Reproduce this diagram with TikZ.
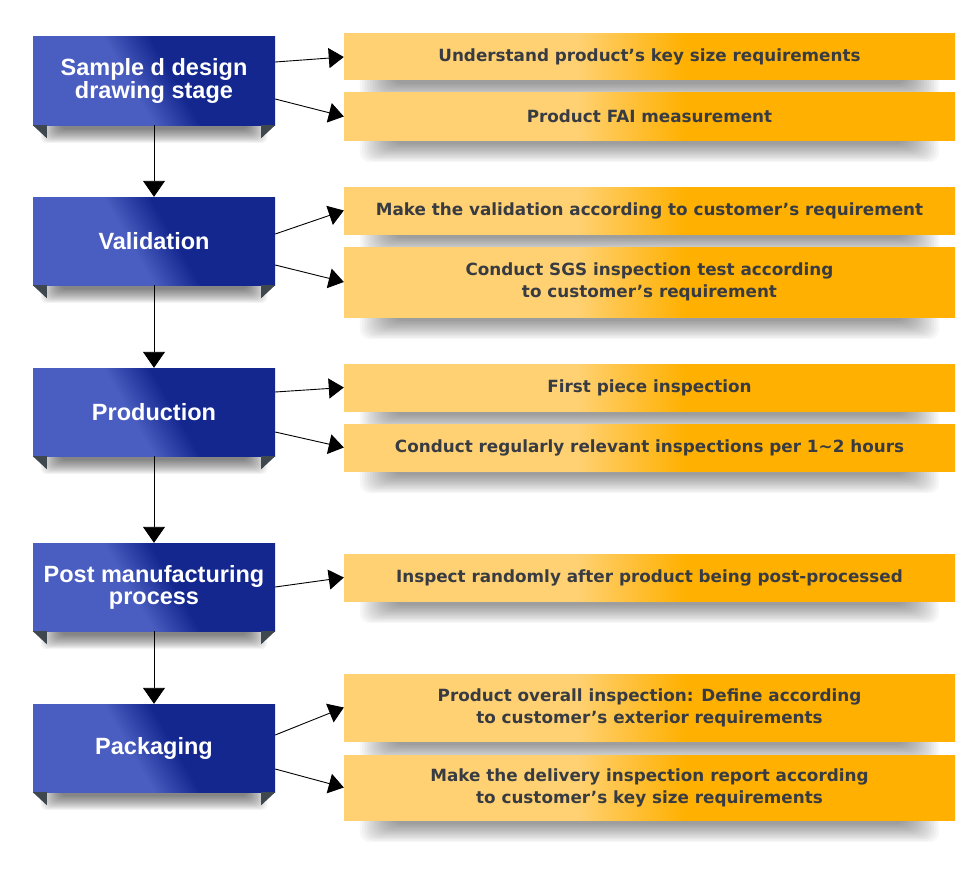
\documentclass[tikz,border=0pt]{standalone}
\usepackage{fontspec}
\setmainfont{Liberation Sans}
\newfontfamily\orfont{DejaVu Sans}
\usetikzlibrary{arrows.meta,calc}
\definecolor{ol}{HTML}{FFD173}
\definecolor{od}{HTML}{FFB000}
\definecolor{bl}{HTML}{4A5DC0}
\definecolor{bd}{HTML}{13278F}
\definecolor{fold}{HTML}{3F474F}
\definecolor{txt}{HTML}{383C42}
\pgfdeclarehorizontalshading{orangeshade}{100bp}{color(0bp)=(ol); color(44bp)=(ol); color(53bp)=(od); color(100bp)=(od)}
\pgfdeclarehorizontalshading{blueshade}{100bp}{color(0bp)=(bl); color(44bp)=(bl); color(55bp)=(bd); color(100bp)=(bd)}
\pgfdeclarelayer{bg}
\pgfdeclarelayer{shadow}
\pgfsetlayers{bg,shadow,main}
\begin{document}
\begin{tikzpicture}[x=1pt,y=-1pt,
  bluebox/.style={minimum width=242pt, minimum height=88pt, inner sep=0pt, shade, shading=blueshade, shading angle=30,
    text=white, font=\bfseries\fontsize{23.5}{22}\selectfont, align=center},
  orangebox/.style={minimum width=611pt, inner sep=0pt, shade, shading=orangeshade,
    text=txt, font=\orfont\bfseries\fontsize{16.8}{22}\selectfont, align=center},
  harr/.style={-{Triangle[length=15pt,width=20pt]}, line width=0.9pt, black},
  varr/.style={-{Triangle[length=16pt,width=22pt]}, line width=0.9pt, black},
  shadowlayer/.style={fill=black, opacity=0.032, rounded corners=10pt}
]
\begin{pgfonlayer}{bg}
\fill[white] (0,0) rectangle (970,875);
\end{pgfonlayer}
\useasboundingbox (0,0) rectangle (970,875);

% blue stage boxes
\node[bluebox] (b1) at (154,81) {Sample d design\\drawing stage};
\node[bluebox] (b2) at (154,241) {Validation};
\node[bluebox] (b3) at (154,412) {Production};
\node[bluebox] (b4) at (154,587) {Post manufacturing\\process};
\node[bluebox] (b5) at (154,748) {Packaging};

% orange detail boxes
\node[orangebox, minimum height=46pt] (o1) at (649.5,57) {Understand product’s key size requirements};
\node[orangebox, minimum height=47pt] (o2) at (649.5,116.5) {Product FAI measurement};
\node[orangebox, minimum height=47pt] (o3) at (649.5,210.5) {Make the validation according to customer’s requirement};
\node[orangebox, minimum height=70pt] (o4) at (649.5,282) {Conduct SGS inspection test according\\to customer’s requirement};
\node[orangebox, minimum height=47pt] (o5) at (649.5,387.5) {First piece inspection};
\node[orangebox, minimum height=47pt] (o6) at (649.5,447.5) {Conduct regularly relevant inspections per 1\char`\~2 hours};
\node[orangebox, minimum height=47pt] (o7) at (649.5,577.5) {Inspect randomly after product being post-processed};
\node[orangebox, minimum height=67pt] (o8) at (649.5,707.5) {Product overall inspection: Define according\\to customer’s exterior requirements};
\node[orangebox, minimum height=65pt] (o9) at (649.5,787.5) {Make the delivery inspection report according\\to customer’s key size requirements};

% soft shadows (stacked translucent layers)
\begin{pgfonlayer}{shadow}
\foreach \i in {1,...,9}{
  \foreach \k in {0,...,13}{
    \fill[shadowlayer] ($(o\i.south west)+(16+2.5*\k,-12)$) rectangle ($(o\i.south east)+(-16-2.5*\k,22-1.4*\k)$);
  }
}
\foreach \i in {1,...,5}{
  \foreach \k in {0,...,13}{
    \fill[shadowlayer, opacity=0.045, rounded corners=6pt] ($(b\i.south west)+(8+1.5*\k,-12)$) rectangle ($(b\i.south east)+(-8-1.5*\k,18-1.1*\k)$);
  }
}
\end{pgfonlayer}

% folded corners
\foreach \i in {1,...,5}{
  \fill[fold] (b\i.south west) -- ++(14,0) -- ++(0,13) -- cycle;
  \fill[fold] (b\i.south east) -- ++(-14,0) -- ++(0,13) -- cycle;
}

% vertical connectors
\draw[varr] (b1.south) -- (b2.north);
\draw[varr] (b2.south) -- (b3.north);
\draw[varr] (b3.south) -- (b4.north);
\draw[varr] (b4.south) -- (b5.north);

% horizontal connectors
\draw[harr] ([yshift=19pt]b1.east) -- (o1.west);
\draw[harr] ([yshift=-18pt]b1.east) -- (o2.west);
\draw[harr] ([yshift=7pt]b2.east) -- (o3.west);
\draw[harr] ([yshift=-24pt]b2.east) -- (o4.west);
\draw[harr] ([yshift=20pt]b3.east) -- (o5.west);
\draw[harr] ([yshift=-20pt]b3.east) -- (o6.west);
\draw[harr] (b4.east) -- (o7.west);
\draw[harr] ([yshift=13pt]b5.east) -- (o8.west);
\draw[harr] ([yshift=-21pt]b5.east) -- (o9.west);
\end{tikzpicture}
\end{document}
